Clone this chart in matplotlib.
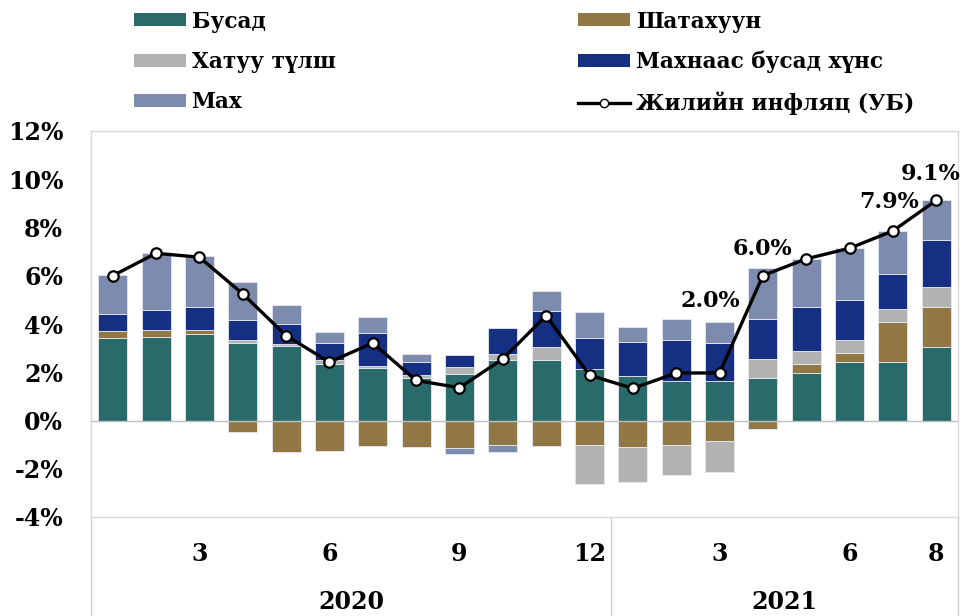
import matplotlib
matplotlib.use("Agg")
import matplotlib.pyplot as plt
import matplotlib.transforms as mtransforms
from matplotlib.patches import Patch
from matplotlib.lines import Line2D
import numpy as np

plt.rcParams["font.family"] = ["DejaVu Serif", "Liberation Serif"]
plt.rcParams["font.weight"] = "bold"

# monthly contributions to annual inflation (%), Jan 2020 - Aug 2021
months = ["1", "2", "3", "4", "5", "6", "7", "8", "9", "10", "11", "12",
          "1", "2", "3", "4", "5", "6", "7", "8"]
month_labels = ["", "", "3", "", "", "6", "", "", "9", "", "", "12",
                "", "", "3", "", "", "6", "", "8"]
years = ["2020", "2021"]
year_spans = [(0, 12), (12, 20)]

busad = [3.42, 3.46, 3.58, 3.21, 3.07, 2.34, 2.16, 1.76, 1.94, 2.49,
         2.51, 2.12, 1.84, 1.65, 1.62, 1.76, 1.98, 2.42, 2.42, 3.04]
shatahuun = [0.28, 0.30, 0.19, -0.48, -1.29, -1.26, -1.07, -1.09, -1.12, -1.00,
             -1.04, -1.02, -1.08, -1.00, -0.87, -0.35, 0.36, 0.37, 1.67, 1.65]
hatuu = [0.0, 0.0, 0.0, 0.11, 0.11, 0.15, 0.11, 0.11, 0.29, 0.28,
         0.54, -1.61, -1.45, -1.25, -1.27, 0.80, 0.55, 0.55, 0.55, 0.83]
mahnaas = [0.72, 0.84, 0.94, 0.83, 0.82, 0.72, 1.36, 0.57, 0.50, 1.08,
           1.48, 1.29, 1.43, 1.69, 1.59, 1.63, 1.80, 1.67, 1.43, 1.97]
mah = [1.60, 2.35, 2.09, 1.58, 0.80, 0.46, 0.64, 0.30, -0.25, -0.29,
       0.83, 1.09, 0.60, 0.87, 0.89, 2.13, 1.99, 2.12, 1.77, 1.65]
inflation = [6.00, 6.93, 6.77, 5.25, 3.52, 2.42, 3.21, 1.66, 1.36, 2.55,
             4.35, 1.88, 1.33, 1.97, 1.97, 6.01, 6.70, 7.14, 7.86, 9.13]
labelled = {14: "2.0%", 15: "6.0%", 18: "7.9%", 19: "9.1%"}

series = [
    ("Бусад", busad, "#296b6b"),
    ("Шатахуун", shatahuun, "#917744"),
    ("Хатуу түлш", hatuu, "#b2b2b2"),
    ("Махнаас бусад хүнс", mahnaas, "#152f82"),
    ("Мах", mah, "#7d8bae"),
]

fig = plt.figure(figsize=(9.65, 6.16), dpi=100)
ax = fig.add_axes([91 / 965, 99 / 616, 867 / 965, 386 / 616])

x = np.arange(len(months))
pos_base = np.zeros(len(x))
neg_base = np.zeros(len(x))
for name, vals, color in series:
    v = np.array(vals)
    base = np.where(v >= 0, pos_base, neg_base)
    ax.bar(x, v, 0.67, bottom=base, color=color, edgecolor="#e8e8f0",
           linewidth=0.6, zorder=2)
    pos_base += np.clip(v, 0, None)
    neg_base += np.clip(v, None, 0)

ax.plot(x, inflation, color="black", lw=2.4, marker="o", ms=7.5,
        mfc="white", mec="black", mew=1.6, zorder=4)

offsets = {14: (-7, 44), 15: (0, 11), 18: (-3, 13), 19: (-4, 11)}
for i, txt in labelled.items():
    ax.annotate(txt, (x[i], inflation[i]), xytext=offsets[i],
                textcoords="offset points", ha="center", va="bottom",
                fontsize=16, fontweight="bold", zorder=5)

ax.axhline(0, color="#bfbfbf", lw=1, zorder=3)
ax.set_xlim(-0.5, len(x) - 0.5)
ax.set_ylim(-4, 12)
ax.set_yticks(np.arange(-4, 13, 2))
ax.set_yticklabels([f"{t}%" for t in range(-4, 13, 2)], fontsize=17)
ax.tick_params(axis="y", length=0, pad=20)
ax.set_xticks([])
for s in ax.spines.values():
    s.set_color("#d9d9d9")
    s.set_linewidth(1)

# two-level category axis below the plot
trans = mtransforms.blended_transform_factory(ax.transData, ax.transAxes)
for i, lab in enumerate(month_labels):
    if lab:
        ax.text(x[i], -0.095, lab, transform=trans, ha="center", va="center",
                fontsize=17, fontweight="bold")
for yr, (a, b) in zip(years, year_spans):
    ax.text((a + b - 1) / 2, -0.22, yr, transform=trans, ha="center",
            va="center", fontsize=17, fontweight="bold")
for edge in [-0.5, 11.5, 19.5]:
    ax.add_line(Line2D([edge, edge], [0, -0.26], transform=trans,
                       color="#d0d0d0", lw=1, clip_on=False))

handles = [Patch(facecolor=c, label=n) for n, _, c in series]
handles.append(Line2D([], [], color="black", lw=2.4, marker="o", ms=6,
                      mfc="white", mec="black", label="Жилийн инфляц (УБ)"))
order = [0, 2, 4, 1, 3, 5]
fig.legend([handles[i] for i in order],
           [handles[i].get_label() for i in order],
           ncol=2, loc="upper left", bbox_to_anchor=(114 / 965, 1.0146),
           frameon=False, handlelength=2.4, handleheight=0.55,
           handletextpad=0.28, labelspacing=0.85, columnspacing=11.2,
           prop={"weight": "bold", "size": 15.6})

fig.savefig("out.png", dpi=100)
